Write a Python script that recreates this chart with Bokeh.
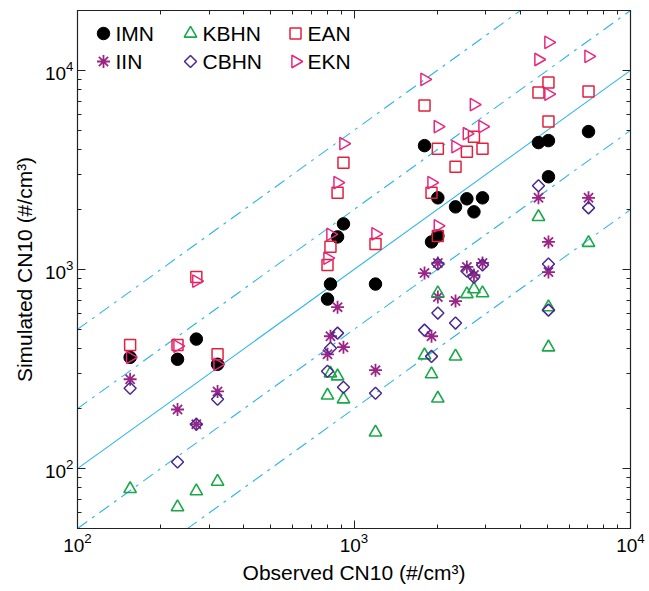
from bokeh.plotting import figure
from bokeh.models import LogAxis, FixedTicker, ColumnDataSource, CustomJSTickFormatter
from bokeh.core.properties import value
from bokeh.embed import file_html
from bokeh.resources import INLINE
import math

# Observed vs simulated CN10 (#/cm^3) for each model configuration
imn_obs = [155, 230, 269, 321, 802, 822, 872, 916, 1196, 1799, 1907, 2010, 2010, 2329, 2560, 2715, 2916, 4647, 5050, 5050, 7050]
imn_sim = [362, 354, 447, 334, 710, 845, 1458, 1695, 845, 4190, 1376, 2291, 1475, 2064, 2265, 1948, 2291, 4340, 4440, 2924, 4930]

iin_obs = [155, 230, 269, 321, 802, 822, 872, 916, 1196, 1799, 1907, 2010, 2010, 2329, 2560, 2715, 2916, 4647, 5050, 5050, 7050]
iin_sim = [281, 198, 167, 244, 375, 462, 647, 407, 312, 960, 462, 1079, 727, 694, 1030, 938, 1079, 2291, 1376, 971, 2291]

kbhn_obs = [155, 230, 269, 321, 802, 822, 872, 916, 1196, 1799, 1907, 2010, 2010, 2329, 2560, 2715, 2916, 4647, 5050, 5050, 7050]
kbhn_sim = [79, 64, 77, 86, 233, 301, 291, 223, 152, 371, 298, 761, 225, 366, 753, 797, 761, 1838, 647, 407, 1362]

cbhn_obs = [155, 230, 269, 321, 802, 822, 872, 916, 1196, 1799, 1907, 2010, 2010, 2329, 2560, 2715, 2916, 4647, 5050, 5050, 7050]
cbhn_sim = [253, 108, 167, 223, 308, 402, 479, 256, 239, 496, 366, 1066, 604, 538, 983, 916, 1054, 2634, 1066, 625, 2040]

ean_obs = [155, 230, 269, 321, 802, 822, 872, 916, 1196, 1799, 1907, 2010, 2010, 2329, 2560, 2715, 2916, 4647, 5050, 5050, 7050]
ean_sim = [417, 417, 917, 375, 1054, 1300, 2430, 3440, 1343, 6660, 2430, 4045, 1475, 3283, 3908, 4648, 4045, 7740, 5534, 8700, 7840]

ekn_obs = [155, 230, 269, 321, 802, 822, 872, 916, 1196, 1799, 1907, 2010, 2010, 2329, 2560, 2715, 2916, 4647, 5050, 5050, 7050]
ekn_sim = [362, 412, 875, 334, 1140, 1500, 2729, 4290, 1510, 9010, 2729, 5224, 1656, 4140, 4814, 6740, 5224, 11350, 13840, 7600, 11770]

series_names = ["IMN", "IIN", "KBHN", "CBHN", "EAN", "EKN"]

# Reference lines: 1:1, factor of 2 and factor of 5
ratios = [0.2, 0.5, 1.0, 2.0, 5.0]
line_x = [100, 10000]

FONT = "Liberation Sans"
LINE_COLOR = "#2BB5E8"
AXIS_COLOR = "#222222"

X_RANGE = (100, 10000)
Y_RANGE = (50, 20000)
W, H = 649, 591
B_LEFT, B_RIGHT, B_TOP, B_BOTTOM = 77, 19, 10, 63

p = figure(width=W, height=H, x_axis_type="log", y_axis_type="log",
           x_range=X_RANGE, y_range=Y_RANGE,
           output_backend="svg", toolbar_location=None,
           min_border_left=B_LEFT, min_border_right=B_RIGHT,
           min_border_top=B_TOP, min_border_bottom=B_BOTTOM)
p.grid.visible = False
p.outline_line_color = AXIS_COLOR
p.outline_line_width = 1.2
p.background_fill_color = "white"
p.border_fill_color = "white"

for r in ratios:
    p.line(line_x, [r * v for v in line_x], line_color=LINE_COLOR, line_width=1.1,
           line_dash="solid" if r == 1.0 else "12 6 3 6")

styles = [
    dict(marker="circle", size=12.5, fill_color="black", line_color="black"),
    dict(marker="asterisk", size=13, fill_color=None, line_color="#9B2586", line_width=1.8),
    dict(marker="triangle", size=12.5, fill_color=None, line_color="#1BA84A", line_width=1.6),
    dict(marker="square", size=8.5, angle=math.pi / 4, fill_color=None, line_color="#4B2A8E", line_width=1.5),
    dict(marker="square", size=11, fill_color=None, line_color="#E3203D", line_width=1.5),
    dict(marker="triangle", size=12.5, fill_color=None, line_color="#E8287E", line_width=1.5, angle=-math.pi / 2),
]
data = [(imn_obs, imn_sim), (iin_obs, iin_sim), (kbhn_obs, kbhn_sim),
        (cbhn_obs, cbhn_sim), (ean_obs, ean_sim), (ekn_obs, ekn_sim)]

for (xs, ys), style in zip(data, styles):
    p.scatter("x", "y", source=ColumnDataSource(dict(x=xs, y=ys)), **style)

# Key box: screen offsets inside the frame converted to log-axis positions
frame_w = W - B_LEFT - B_RIGHT
frame_h = H - B_TOP - B_BOTTOM

def key_x(dx):
    lo, hi = math.log10(X_RANGE[0]), math.log10(X_RANGE[1])
    return 10 ** (lo + dx / frame_w * (hi - lo))

def key_y(dy):
    lo, hi = math.log10(Y_RANGE[0]), math.log10(Y_RANGE[1])
    return 10 ** (hi - dy / frame_h * (hi - lo))

col_dx = [26, 113, 218]   # marker centres from the frame's left edge
row_dy = [23, 51]         # row centres from the frame's top edge
label_gap = 12
for i, (name, style) in enumerate(zip(series_names, styles)):
    c, rw = divmod(i, 2)
    p.scatter([key_x(col_dx[c])], [key_y(row_dy[rw])], **style)
    p.text([key_x(col_dx[c] + label_gap)], [key_y(row_dy[rw])], text=[name],
           text_font=value(FONT), text_font_size="21px", text_color="black",
           text_baseline="middle", text_align="left")

major = [100, 1000, 10000]
minor = [m * 10 ** e for e in range(1, 5) for m in range(2, 10)]

def style_axis(ax, show_labels=True):
    ax.major_tick_in = 8
    ax.major_tick_out = 0
    ax.minor_tick_in = 4
    ax.minor_tick_out = 0
    ax.axis_line_color = AXIS_COLOR
    ax.major_tick_line_color = AXIS_COLOR
    ax.minor_tick_line_color = AXIS_COLOR
    ax.major_label_text_font = FONT
    ax.major_label_text_font_size = "19px"
    ax.major_label_text_color = "black"
    ax.axis_label_text_font = FONT
    ax.axis_label_text_font_size = "21px"
    ax.axis_label_text_font_style = "normal"
    ax.axis_label_text_color = "black"
    ax.major_label_standoff = 4
    ax.axis_label_standoff = 6
    if not show_labels:
        ax.formatter = CustomJSTickFormatter(code="return ''")
        ax.major_label_standoff = 0

p.xaxis.ticker = FixedTicker(ticks=major, minor_ticks=minor)
p.yaxis.ticker = FixedTicker(ticks=major, minor_ticks=minor)
style_axis(p.xaxis[0])
style_axis(p.yaxis[0])
p.xaxis.axis_label = "Observed CN10 (#/cm³)"
p.yaxis.axis_label = "Simulated CN10 (#/cm³)"

top = LogAxis(ticker=FixedTicker(ticks=major, minor_ticks=minor))
right = LogAxis(ticker=FixedTicker(ticks=major, minor_ticks=minor))
style_axis(top, show_labels=False)
style_axis(right, show_labels=False)
p.add_layout(top, "above")
p.add_layout(right, "right")

open("out.html", "w").write(file_html(p, INLINE))
